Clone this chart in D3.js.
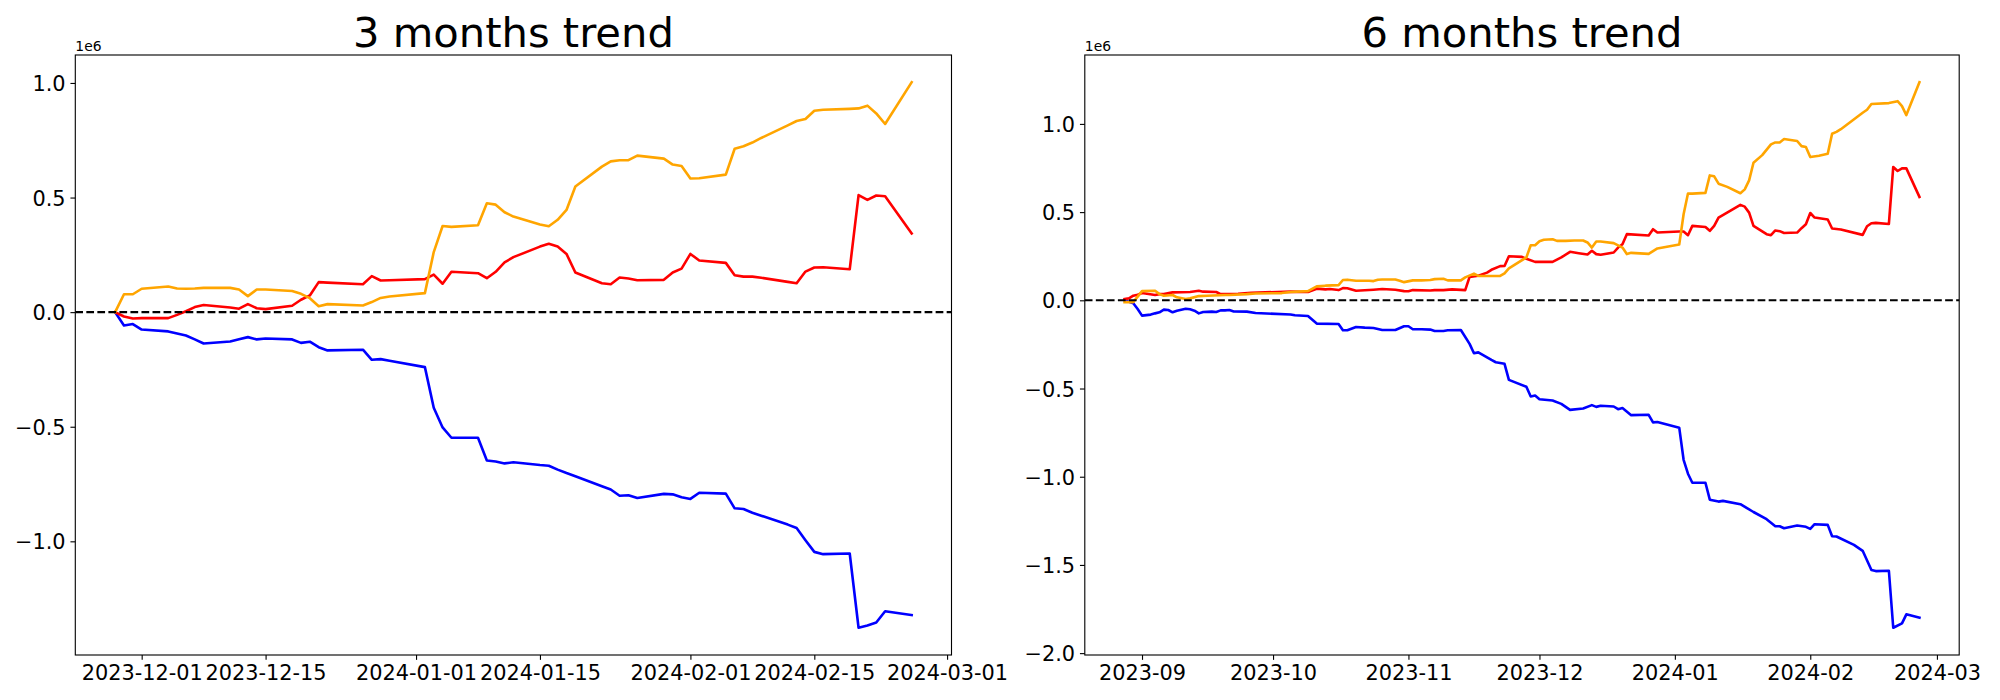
<!DOCTYPE html>
<html>
<head>
<meta charset="utf-8">
<script src="https://cdn.jsdelivr.net/npm/d3@7"></script>
<style>
  html, body { margin: 0; padding: 0; background: #fff; }
  svg { display: block; }
</style>
</head>
<body>
<svg id="chart" width="2000" height="700"></svg>
<script>
// ---------------- DATA ----------------
const titles = ["3 months trend", "6 months trend"];
const seriesColors = ["blue", "red", "orange"];

// 3 months panel: shared dates
const threeDates = ["2023-11-28","2023-11-29","2023-11-30","2023-12-01","2023-12-04","2023-12-05","2023-12-06","2023-12-07","2023-12-08","2023-12-11","2023-12-12","2023-12-13","2023-12-14","2023-12-15","2023-12-18","2023-12-19","2023-12-20","2023-12-21","2023-12-22","2023-12-26","2023-12-27","2023-12-28","2023-12-29","2024-01-02","2024-01-03","2024-01-04","2024-01-05","2024-01-08","2024-01-09","2024-01-10","2024-01-11","2024-01-12","2024-01-15","2024-01-16","2024-01-17","2024-01-18","2024-01-19","2024-01-22","2024-01-23","2024-01-24","2024-01-25","2024-01-26","2024-01-29","2024-01-30","2024-01-31","2024-02-01","2024-02-02","2024-02-05","2024-02-06","2024-02-07","2024-02-08","2024-02-09","2024-02-12","2024-02-13","2024-02-14","2024-02-15","2024-02-16","2024-02-19","2024-02-20","2024-02-21","2024-02-22","2024-02-23","2024-02-26"];
const threeBlue = [0,-0.058,-0.052,-0.076,-0.084,-0.093,-0.102,-0.119,-0.137,-0.128,-0.118,-0.109,-0.119,-0.115,-0.119,-0.134,-0.129,-0.153,-0.167,-0.164,-0.208,-0.205,-0.212,-0.240,-0.417,-0.503,-0.548,-0.548,-0.647,-0.652,-0.660,-0.655,-0.667,-0.670,-0.687,-0.702,-0.716,-0.760,-0.774,-0.801,-0.799,-0.811,-0.793,-0.795,-0.808,-0.815,-0.788,-0.792,-0.856,-0.859,-0.875,-0.888,-0.927,-0.942,-0.995,-1.046,-1.056,-1.053,-1.377,-1.367,-1.354,-1.305,-1.322];
const threeRed = [0,-0.019,-0.028,-0.026,-0.026,-0.012,0.004,0.022,0.031,0.020,0.015,0.035,0.017,0.013,0.028,0.054,0.073,0.131,0.129,0.122,0.157,0.138,0.139,0.144,0.164,0.124,0.176,0.170,0.148,0.176,0.217,0.240,0.286,0.298,0.286,0.254,0.173,0.126,0.122,0.151,0.147,0.139,0.141,0.173,0.190,0.254,0.225,0.215,0.161,0.155,0.155,0.150,0.132,0.126,0.177,0.195,0.196,0.187,0.511,0.490,0.509,0.506,0.343];
const threeOrange = [0,0.078,0.078,0.102,0.112,0.103,0.102,0.103,0.106,0.106,0.099,0.070,0.099,0.099,0.092,0.080,0.061,0.026,0.035,0.029,0.044,0.062,0.068,0.083,0.262,0.376,0.372,0.379,0.475,0.469,0.436,0.417,0.382,0.375,0.403,0.446,0.548,0.635,0.658,0.663,0.663,0.683,0.670,0.644,0.638,0.583,0.584,0.600,0.713,0.724,0.740,0.760,0.815,0.834,0.843,0.879,0.883,0.887,0.889,0.901,0.867,0.821,1.003];

// 6 months panel: per-series dates
const sixBlueDates = ["2023-08-28","2023-08-30","2023-08-31","2023-09-01","2023-09-03","2023-09-04","2023-09-05","2023-09-06","2023-09-07","2023-09-08","2023-09-09","2023-09-11","2023-09-12","2023-09-13","2023-09-14","2023-09-15","2023-09-17","2023-09-18","2023-09-19","2023-09-20","2023-09-21","2023-09-22","2023-09-25","2023-09-27","2023-10-05","2023-10-06","2023-10-09","2023-10-11","2023-10-16","2023-10-17","2023-10-18","2023-10-20","2023-10-22","2023-10-24","2023-10-26","2023-10-29","2023-10-31","2023-11-01","2023-11-02","2023-11-04","2023-11-06","2023-11-07","2023-11-09","2023-11-10","2023-11-13","2023-11-15","2023-11-16","2023-11-17","2023-11-20","2023-11-21","2023-11-23","2023-11-24","2023-11-28","2023-11-29","2023-11-30","2023-12-01","2023-12-04","2023-12-06","2023-12-08","2023-12-11","2023-12-13","2023-12-14","2023-12-15","2023-12-18","2023-12-19","2023-12-20","2023-12-22","2023-12-26","2023-12-27","2023-12-28","2024-01-02","2024-01-03","2024-01-04","2024-01-05","2024-01-08","2024-01-09","2024-01-11","2024-01-12","2024-01-16","2024-01-19","2024-01-22","2024-01-24","2024-01-25","2024-01-26","2024-01-29","2024-01-31","2024-02-01","2024-02-02","2024-02-05","2024-02-06","2024-02-07","2024-02-11","2024-02-13","2024-02-15","2024-02-16","2024-02-19","2024-02-20","2024-02-22","2024-02-23","2024-02-26"];
const sixBlue = [0,-0.017,-0.049,-0.087,-0.081,-0.074,-0.068,-0.053,-0.055,-0.068,-0.059,-0.048,-0.051,-0.059,-0.074,-0.066,-0.064,-0.066,-0.057,-0.057,-0.055,-0.063,-0.064,-0.072,-0.080,-0.085,-0.089,-0.132,-0.134,-0.170,-0.170,-0.151,-0.155,-0.157,-0.168,-0.168,-0.147,-0.147,-0.164,-0.164,-0.166,-0.174,-0.174,-0.170,-0.168,-0.247,-0.300,-0.295,-0.338,-0.351,-0.360,-0.451,-0.490,-0.545,-0.540,-0.561,-0.568,-0.587,-0.621,-0.613,-0.594,-0.604,-0.598,-0.602,-0.617,-0.611,-0.651,-0.649,-0.692,-0.690,-0.722,-0.904,-0.983,-1.034,-1.034,-1.130,-1.141,-1.137,-1.156,-1.200,-1.241,-1.281,-1.281,-1.292,-1.277,-1.284,-1.296,-1.269,-1.273,-1.337,-1.339,-1.386,-1.420,-1.529,-1.535,-1.533,-1.856,-1.831,-1.780,-1.799];

const sixRedDates = ["2023-08-28","2023-08-29","2023-08-30","2023-08-31","2023-09-01","2023-09-04","2023-09-05","2023-09-06","2023-09-08","2023-09-12","2023-09-14","2023-09-15","2023-09-18","2023-09-19","2023-09-23","2023-09-26","2023-10-02","2023-10-05","2023-10-09","2023-10-11","2023-10-13","2023-10-14","2023-10-16","2023-10-17","2023-10-18","2023-10-20","2023-10-24","2023-10-26","2023-10-29","2023-10-31","2023-11-01","2023-11-02","2023-11-06","2023-11-07","2023-11-09","2023-11-11","2023-11-14","2023-11-15","2023-11-17","2023-11-19","2023-11-20","2023-11-22","2023-11-23","2023-11-24","2023-11-27","2023-11-28","2023-11-30","2023-12-04","2023-12-06","2023-12-08","2023-12-10","2023-12-12","2023-12-13","2023-12-14","2023-12-15","2023-12-18","2023-12-19","2023-12-20","2023-12-21","2023-12-26","2023-12-27","2023-12-28","2024-01-02","2024-01-03","2024-01-04","2024-01-05","2024-01-08","2024-01-09","2024-01-10","2024-01-11","2024-01-16","2024-01-17","2024-01-18","2024-01-19","2024-01-22","2024-01-23","2024-01-24","2024-01-25","2024-01-26","2024-01-29","2024-01-30","2024-01-31","2024-02-01","2024-02-02","2024-02-05","2024-02-06","2024-02-08","2024-02-13","2024-02-14","2024-02-15","2024-02-16","2024-02-19","2024-02-20","2024-02-21","2024-02-22","2024-02-23","2024-02-26"];
const sixRed = [0.007,0.011,0.026,0.032,0.041,0.030,0.035,0.035,0.045,0.047,0.054,0.049,0.047,0.035,0.037,0.043,0.047,0.049,0.047,0.066,0.062,0.064,0.058,0.069,0.068,0.054,0.060,0.064,0.060,0.052,0.051,0.058,0.056,0.058,0.058,0.062,0.058,0.133,0.139,0.157,0.173,0.194,0.195,0.250,0.246,0.236,0.218,0.218,0.243,0.275,0.267,0.260,0.281,0.262,0.258,0.271,0.299,0.318,0.375,0.367,0.403,0.384,0.390,0.390,0.369,0.422,0.416,0.394,0.422,0.469,0.541,0.531,0.497,0.422,0.375,0.369,0.396,0.392,0.382,0.384,0.409,0.431,0.495,0.469,0.458,0.407,0.401,0.371,0.420,0.437,0.439,0.433,0.756,0.733,0.748,0.748,0.586];

const sixOrangeDates = ["2023-08-28","2023-08-30","2023-09-01","2023-09-04","2023-09-05","2023-09-06","2023-09-08","2023-09-09","2023-09-11","2023-09-12","2023-09-14","2023-09-16","2023-09-20","2023-09-21","2023-09-25","2023-09-27","2023-10-03","2023-10-05","2023-10-09","2023-10-11","2023-10-13","2023-10-16","2023-10-17","2023-10-18","2023-10-20","2023-10-23","2023-10-24","2023-10-25","2023-10-26","2023-10-29","2023-10-30","2023-10-31","2023-11-02","2023-11-04","2023-11-06","2023-11-07","2023-11-09","2023-11-10","2023-11-13","2023-11-14","2023-11-16","2023-11-17","2023-11-22","2023-11-23","2023-11-24","2023-11-28","2023-11-29","2023-11-30","2023-12-01","2023-12-02","2023-12-04","2023-12-05","2023-12-07","2023-12-09","2023-12-11","2023-12-12","2023-12-13","2023-12-14","2023-12-15","2023-12-18","2023-12-20","2023-12-21","2023-12-22","2023-12-26","2023-12-28","2024-01-02","2024-01-03","2024-01-04","2024-01-05","2024-01-08","2024-01-09","2024-01-10","2024-01-11","2024-01-13","2024-01-16","2024-01-17","2024-01-18","2024-01-19","2024-01-21","2024-01-23","2024-01-24","2024-01-25","2024-01-26","2024-01-29","2024-01-30","2024-01-31","2024-02-01","2024-02-03","2024-02-05","2024-02-06","2024-02-07","2024-02-08","2024-02-13","2024-02-14","2024-02-15","2024-02-19","2024-02-21","2024-02-22","2024-02-23","2024-02-26"];
const sixOrange = [-0.010,-0.010,0.052,0.054,0.035,0.026,0.030,0.017,0.007,0.011,0.024,0.026,0.030,0.030,0.035,0.039,0.041,0.047,0.052,0.079,0.083,0.086,0.115,0.117,0.111,0.111,0.109,0.117,0.118,0.118,0.111,0.103,0.113,0.113,0.115,0.120,0.122,0.113,0.113,0.130,0.151,0.138,0.138,0.153,0.181,0.243,0.312,0.312,0.335,0.343,0.346,0.337,0.337,0.339,0.339,0.328,0.299,0.333,0.333,0.324,0.299,0.262,0.269,0.263,0.294,0.316,0.488,0.605,0.605,0.609,0.708,0.703,0.661,0.643,0.607,0.629,0.680,0.780,0.823,0.884,0.895,0.895,0.914,0.903,0.874,0.869,0.812,0.820,0.831,0.944,0.955,0.970,1.063,1.080,1.113,1.118,1.129,1.101,1.050,1.236];

// Tick labels
const threeXTicks = ["2023-12-01","2023-12-15","2024-01-01","2024-01-15","2024-02-01","2024-02-15","2024-03-01"];
const sixXTicks = ["2023-09","2023-10","2023-11","2023-12","2024-01","2024-02","2024-03"];
const threeYTicks = [1.0, 0.5, 0.0, -0.5, -1.0];
const sixYTicks = [1.0, 0.5, 0.0, -0.5, -1.0, -1.5, -2.0];
const offsetLabel = "1e6";
const scaleFactor = 1e6;

// ---------------- DRAW ----------------
const parse = d3.utcParse("%Y-%m-%d");
const parseMonth = d3.utcParse("%Y-%m");
const svg = d3.select("#chart");
svg.append("rect").attr("width", 2000).attr("height", 700).attr("fill", "#fff");

const FONT = "DejaVu Sans, sans-serif";
const TICK_LEN = 4.86, TICK_PAD = 4.86, TICK_FS = 20.83;

const panels = [
  {
    title: titles[0], left: 75.3, right: 951.5,
    series: [
      { dates: threeDates, values: threeBlue, color: seriesColors[0] },
      { dates: threeDates, values: threeRed, color: seriesColors[1] },
      { dates: threeDates, values: threeOrange, color: seriesColors[2] }
    ],
    xTicks: threeXTicks.map(s => ({ date: parse(s), label: s })),
    yTicks: threeYTicks
  },
  {
    title: titles[1], left: 1084.8, right: 1959.2,
    series: [
      { dates: sixBlueDates, values: sixBlue, color: seriesColors[0] },
      { dates: sixRedDates, values: sixRed, color: seriesColors[1] },
      { dates: sixOrangeDates, values: sixOrange, color: seriesColors[2] }
    ],
    xTicks: sixXTicks.map(s => ({ date: parseMonth(s), label: s })),
    yTicks: sixYTicks
  }
];
const TOP = 55, BOTTOM = 655;

function padExtent(ext, frac) {
  const span = ext[1] - ext[0];
  return [ext[0] - span * frac, ext[1] + span * frac];
}

panels.forEach(p => {
  const seriesPts = p.series.map(s => s.dates.map((d, i) => ({ t: parse(d), v: s.values[i] * scaleFactor })));
  const allPts = seriesPts.flat();
  const tExt = d3.extent(allPts, d => +d.t);
  const vExt = d3.extent(allPts, d => d.v);
  const tDom = padExtent(tExt, 0.05);
  const vDom = padExtent(vExt, 0.05);

  const x = d3.scaleUtc().domain([new Date(tDom[0]), new Date(tDom[1])]).range([p.left, p.right]);
  const y = d3.scaleLinear().domain(vDom).range([BOTTOM, TOP]);

  const g = svg.append("g");

  // lines
  const line = d3.line().x(d => x(d.t)).y(d => y(d.v));
  seriesPts.forEach((pts, i) => {
    g.append("path").datum(pts)
      .attr("d", line)
      .attr("fill", "none")
      .attr("stroke", p.series[i].color)
      .attr("stroke-width", 2.6)
      .attr("stroke-linejoin", "round")
      .attr("stroke-linecap", "square");
  });

  // zero dashed line (axhline)
  g.append("line")
    .attr("x1", p.left).attr("x2", p.right)
    .attr("y1", y(0)).attr("y2", y(0))
    .attr("stroke", "black").attr("stroke-width", 2.08)
    .attr("stroke-dasharray", "7.7,3.33");

  // axes
  const xAxis = d3.axisBottom(x)
    .tickValues(p.xTicks.map(d => d.date))
    .tickFormat((d, i) => p.xTicks[i].label)
    .tickSizeInner(TICK_LEN).tickSizeOuter(0).tickPadding(TICK_PAD);
  const gx = g.append("g").attr("transform", `translate(0,${BOTTOM})`).call(xAxis);

  const yFmt = d3.format(".1f");
  const yAxis = d3.axisLeft(y)
    .tickValues(p.yTicks.map(v => v * scaleFactor))
    .tickFormat(v => yFmt(v / scaleFactor))
    .tickSizeInner(TICK_LEN).tickSizeOuter(0).tickPadding(TICK_PAD);
  const gy = g.append("g").attr("transform", `translate(${p.left},0)`).call(yAxis);

  [gx, gy].forEach(ax => {
    ax.select(".domain").remove();
    ax.selectAll(".tick line").attr("stroke", "black").attr("stroke-width", 1.11);
    ax.selectAll(".tick text")
      .attr("fill", "black")
      .style("font-family", FONT)
      .style("font-size", TICK_FS + "px");
  });
  gx.selectAll(".tick text").attr("y", TICK_LEN + TICK_PAD).attr("dy", "0.74em");
  gy.selectAll(".tick text").attr("dy", "0.365em");

  // spines
  g.append("rect")
    .attr("x", p.left).attr("y", TOP)
    .attr("width", p.right - p.left).attr("height", BOTTOM - TOP)
    .attr("fill", "none").attr("stroke", "black").attr("stroke-width", 1.11);

  // offset text
  g.append("text")
    .attr("x", p.left).attr("y", 50.7)
    .style("font-family", FONT).style("font-size", "13.9px")
    .attr("fill", "black")
    .text(offsetLabel);

  // title
  g.append("text")
    .attr("x", (p.left + p.right) / 2).attr("y", 46.7)
    .attr("text-anchor", "middle")
    .style("font-family", FONT).style("font-size", "41.67px")
    .attr("fill", "black")
    .text(p.title);
});
</script>
</body>
</html>
